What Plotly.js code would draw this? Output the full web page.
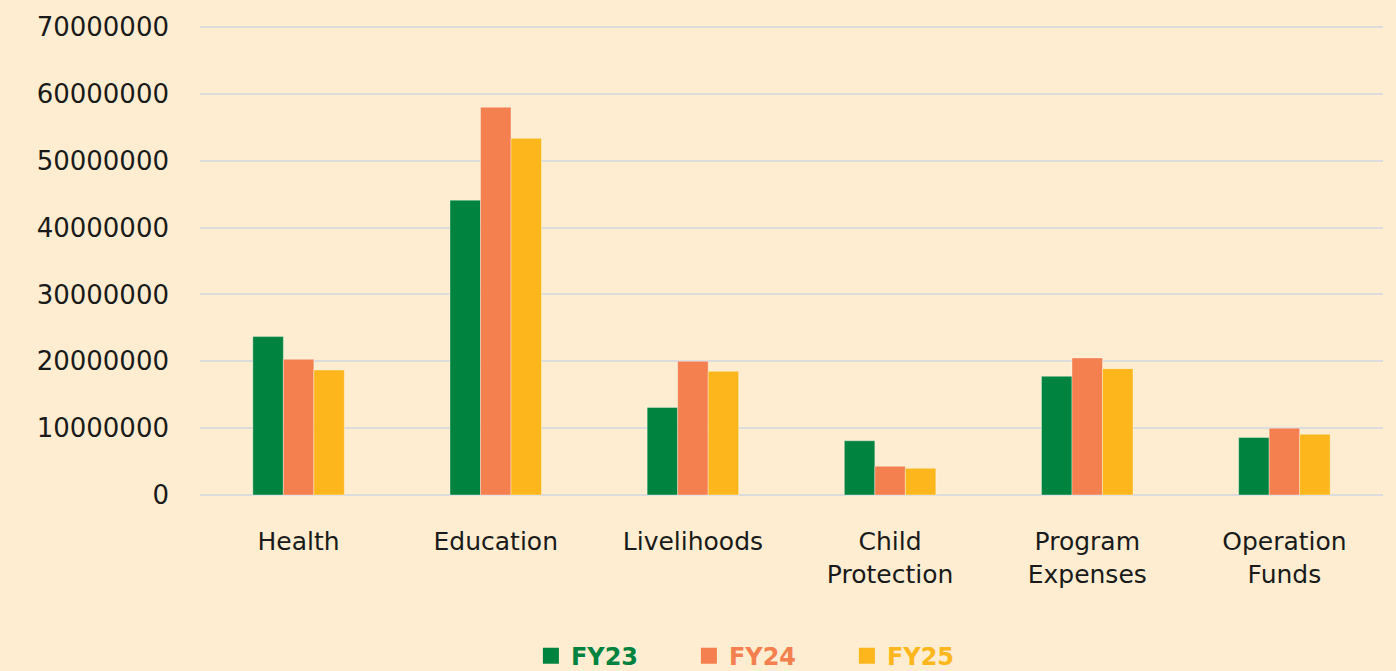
<!DOCTYPE html>
<html>
<head>
<meta charset="utf-8">
<script src="https://cdn.plot.ly/plotly-3.0.1.min.js"></script>
<style>html,body{margin:0;padding:0;background:#FEEDD0;}#chart{width:1396px;height:671px;}</style>
</head>
<body>
<div id="chart"></div>
<script>
const categories = ["Health", "Education", "Livelihoods", "Child<br>Protection", "Program<br>Expenses", "Operation<br>Funds"];
const seriesNames = ["FY23", "FY24", "FY25"];
const fy23 = [23700000, 44100000, 13100000, 8100000, 17750000, 8600000];
const fy24 = [20300000, 58000000, 20000000, 4300000, 20500000, 10000000];
const fy25 = [18700000, 53350000, 18500000, 4000000, 18900000, 9100000];
const yTicks = [0, 10000000, 20000000, 30000000, 40000000, 50000000, 60000000, 70000000];

const colors = ["#00833E", "#F47F4F", "#FDB71C"];
const values = [fy23, fy24, fy25];
const font = "DejaVu Sans, sans-serif";

const traces = values.map((v, i) => ({
  type: "bar",
  x: categories,
  y: v,
  name: seriesNames[i],
  showlegend: false,
  legendgroup: seriesNames[i],
  marker: {color: colors[i], line: {color: "rgba(255,255,255,0.35)", width: 1}},
  hoverinfo: "x+y"
}));
// legend entries (square markers)
seriesNames.forEach((n, i) => traces.push({
  type: "scatter",
  mode: "markers",
  x: [categories[0]],
  y: [null],
  name: '<b><span style="color:' + colors[i] + '">' + n + '</span></b>',
  legendgroup: n,
  showlegend: true,
  marker: {symbol: "square", size: 18, color: colors[i]}
}));

const layout = {
  width: 1396,
  height: 671,
  paper_bgcolor: "#FEEDD0",
  plot_bgcolor: "#FEEDD0",
  margin: {l: 200, r: 13, t: 25, b: 174},
  barmode: "group",
  bargap: 0.536,
  bargroupgap: 0,
  font: {family: font, size: 26, color: "#1a1a1a"},
  xaxis: {
    type: "category",
    showgrid: false,
    zeroline: false,
    showline: false,
    ticks: "",
    ticklabelstandoff: 27,
    tickfont: {family: font, size: 25, color: "#1a1a1a"}
  },
  yaxis: {
    range: [-300000, 70300000],
    tickvals: yTicks,
    ticktext: yTicks.map(String),
    showgrid: true,
    gridcolor: "#DCDCDC",
    gridwidth: 2,
    zeroline: false,
    showline: false,
    ticks: "",
    ticklabelstandoff: 30,
    tickfont: {family: font, size: 26, color: "#1a1a1a"}
  },
  showlegend: true,
  legend: {
    orientation: "h",
    xref: "container",
    yref: "container",
    x: 0.3803,
    xanchor: "left",
    y: 0.022,
    yanchor: "middle",
    bgcolor: "rgba(0,0,0,0)",
    entrywidth: 113,
    entrywidthmode: "pixels",
    font: {family: font, size: 24}
  }
};

Plotly.newPlot("chart", traces, layout, {displayModeBar: false, staticPlot: true});
</script>
</body>
</html>
